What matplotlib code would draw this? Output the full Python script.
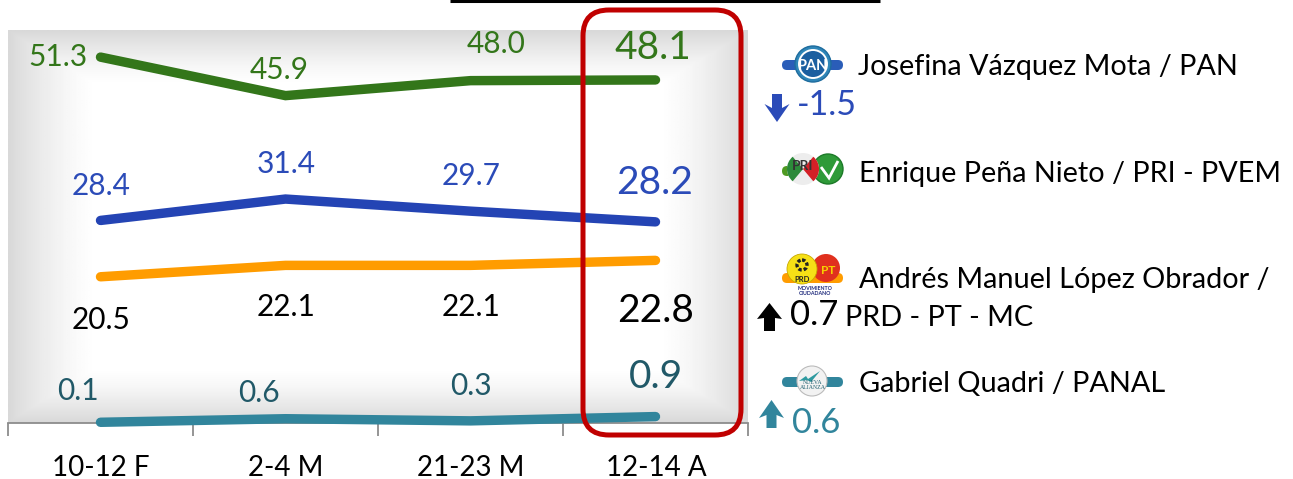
import numpy as np
import matplotlib
matplotlib.use("Agg")
import matplotlib.pyplot as plt
from matplotlib.patches import FancyBboxPatch, Circle, Polygon, Wedge

plt.rcParams['font.family'] = ['Lato', 'DejaVu Sans']

categories = ["10-12 F", "2-4 M", "21-23 M", "12-14 A"]
pan = [51.3, 45.9, 48.0, 48.1]
pri = [28.4, 31.4, 29.7, 28.2]
prd = [20.5, 22.1, 22.1, 22.8]
panal = [0.1, 0.6, 0.3, 0.9]

names = ["Josefina Vázquez Mota / PAN", "Enrique Peña Nieto / PRI - PVEM",
         "Andrés Manuel López Obrador /", "Gabriel Quadri / PANAL"]
deltas = ["-1.5", "0.7", "0.6"]

GREEN, BLUE, ORANGE, TEAL = "#33761A", "#2444B4", "#FF9C00", "#31859C"
LGREEN, LBLUE, LTEAL = "#33761A", "#2B4BB8", "#215968"

W, H = 1293, 479
fig = plt.figure(figsize=(W/100, H/100), dpi=100, facecolor="white")

# plot area
L, R, T, B = 8, 748, 30, 423
ax = fig.add_axes([L/W, 1-B/H, (R-L)/W, (B-T)/H])
ny, nx = 200, 400
xx = np.abs(np.linspace(-1, 1, nx))
yy = np.abs(np.linspace(-1, 1, ny))
d = np.maximum.outer(np.clip((yy-0.72)/0.28, 0, 1), np.clip((xx-0.76)/0.24, 0, 1))
shade = 1 - 0.15*d**1.4
ax.imshow(shade, cmap="gray", vmin=0, vmax=1, aspect="auto",
          extent=(-0.5, 3.5, 0, 55.1), zorder=0, interpolation="bilinear")

x = np.arange(4)
for vals, col in [(pan, GREEN), (pri, BLUE), (prd, ORANGE), (panal, TEAL)]:
    ax.plot(x, vals, color=col, lw=6.8, solid_capstyle="round",
            solid_joinstyle="miter", clip_on=False, zorder=3)
ax.set_xlim(-0.5, 3.5)
ax.set_ylim(0, 55.1)
ax.set_yticks([])
ax.set_xticks(np.arange(-0.5, 4, 1))
ax.set_xticklabels([])
ax.tick_params(axis="x", length=9, width=1.3, color="#8C8C8C", direction="out")
for s in ["top", "left", "right"]:
    ax.spines[s].set_visible(False)
ax.spines["bottom"].set_color("#8C8C8C")
ax.spines["bottom"].set_linewidth(1.3)

# pixel overlay
ov = fig.add_axes([0, 0, 1, 1], zorder=5)
ov.set_xlim(0, W)
ov.set_ylim(H, 0)
ov.axis("off")
ov.patch.set_alpha(0)

def t(px, py, s, size, color="black", ha="center", **kw):
    ov.text(px, py+2, s, fontsize=size, color=color, ha=ha, va="center", **kw)

for px, lab in zip([101, 286, 471, 656], categories):
    t(px, 466, lab, 20)

small = 21.5
big = 28
xs_small = [101, 286, 471]
for vals, col, ys, offs in [(pan, LGREEN, [55, 68, 42], [-43, -7, 25]),
                            (pri, LBLUE, [184, 162, 174], [0, 0, 0]),
                            (prd, "black", [318, 305, 305], [0, 0, 0]),
                            (panal, LTEAL, [389, 391, 384], [-23, -27, 0])]:
    for px, v, py, o in zip(xs_small, vals, ys, offs):
        t(px+o, py, f"{v:.1f}", small, col)
t(653, 46, f"{pan[3]:.1f}", big, LGREEN)
t(655, 181, f"{pri[3]:.1f}", big, LBLUE)
t(656, 309, f"{prd[3]:.1f}", big, "black")
t(656, 375, f"{panal[3]:.1f}", big, LTEAL)

# highlight box and top rule
ov.add_patch(FancyBboxPatch((583, 10), 158, 425, boxstyle="round,pad=0,rounding_size=26",
                            fc="none", ec="#C00000", lw=3.6, zorder=6))
ov.plot([450, 880], [1, 1], color="black", lw=2.2, solid_capstyle="butt")

# legend bars
def bar(cy, col):
    ov.add_patch(FancyBboxPatch((782, cy-5), 61, 10, boxstyle="round,pad=0,rounding_size=5",
                                fc=col, ec="none", zorder=2))
bar(65, "#2A5DB8")
bar(171, "#4F9A22")
bar(278, ORANGE)
bar(382, TEAL)

# PAN logo
ov.add_patch(Circle((813, 64), 18, fc="#2F86B8", ec="#1E6C9E", lw=1, zorder=3))
ov.add_patch(Circle((813, 64), 14, fc="#1B5FA0", ec="white", lw=1.4, zorder=4))
ov.text(813, 66, "PAN", fontsize=10.5, color="white", fontweight="bold", ha="center", va="center", zorder=5)
# PRI + PVEM logo
ov.add_patch(Circle((828, 169), 15, fc="#2E9A38", ec="#1C7A28", zorder=3))
ov.add_patch(Polygon([(821, 167), (829, 178), (838, 161)], closed=False, fc="none", ec="white", lw=2, zorder=4))
ov.add_patch(Wedge((803, 169), 16, 0, 360, fc="#EDEDED", ec="none", zorder=4))
ov.add_patch(Wedge((803, 169), 16, 130, 230, fc="#2C8A3A", ec="none", zorder=4))
ov.add_patch(Wedge((803, 169), 16, -50, 50, fc="#D32027", ec="none", zorder=4))
ov.text(803, 166, "PRI", fontsize=10, color="#333333", fontweight="bold", ha="center", va="center", zorder=5)
# PRD + PT + MC logo
ov.add_patch(Circle((826, 268), 14, fc="#E0301E", zorder=3))
ov.text(828, 270, "PT", fontsize=8.5, color="#F6D000", fontweight="bold", ha="center", va="center", zorder=4)
ov.add_patch(Circle((802, 269), 15, fc="#F6E016", ec="#C8A800", lw=0.6, zorder=4))
ov.add_patch(Circle((802, 265), 5, fc="none", ec="#222222", lw=2.4, ls=(0, (1, 0.6)), zorder=5))
ov.text(802, 279, "PRD", fontsize=5.5, color="#222222", fontweight="bold", ha="center", va="center", zorder=5)
ov.text(815, 291, "MOVIMIENTO\nCIUDADANO", fontsize=3.8, color="#1F2A7C", fontweight="bold",
        ha="center", va="center", linespacing=0.9, zorder=5)
# Nueva Alianza logo
ov.add_patch(Circle((812, 381), 15, fc="#F2F2F2", ec="#BBBBBB", lw=0.8, zorder=3))
ov.add_patch(Polygon([(799, 381), (806, 376), (808, 379), (820, 371), (811, 382), (807, 380)],
                     closed=True, fc="#2E9AA0", ec="none", zorder=4))
ov.text(813, 385, "NUEVA\nALIANZA", fontsize=4.2, color="#1F5F70", ha="center", va="center",
        family="Liberation Serif", linespacing=0.9, zorder=4)

# names
t(858, 65, names[0], 20.8, ha="left")
t(859, 172, names[1], 20.7, ha="left")
t(859, 278, names[2], 20.8, ha="left")
t(845, 316, "PRD - PT - MC", 20.8, ha="left")
t(859, 382, names[3], 20.8, ha="left")

# arrows
def arrow(cx, tip, tail, col, half=5, wing=12.5, wl=18, nl=15):
    s = 1 if tail > tip else -1
    ov.add_patch(Polygon([(cx, tip), (cx+wing, tip+s*wl), (cx+half, tip+s*nl), (cx+half, tail),
                          (cx-half, tail), (cx-half, tip+s*nl), (cx-wing, tip+s*wl)],
                         closed=True, fc=col, ec="none"))
arrow(777, 122, 94, LBLUE, wl=18, nl=14)
arrow(769.5, 303, 331, "black", half=5.5, wl=16, nl=15)
arrow(771.5, 400, 428, TEAL, wl=18, nl=15)
t(797, 103, deltas[0], 24.5, LBLUE, ha="left")
t(790, 313, deltas[1], 25, "black", ha="left")
t(792, 421, deltas[2], 25, TEAL, ha="left")

fig.savefig("out.png", dpi=100, facecolor="white")
